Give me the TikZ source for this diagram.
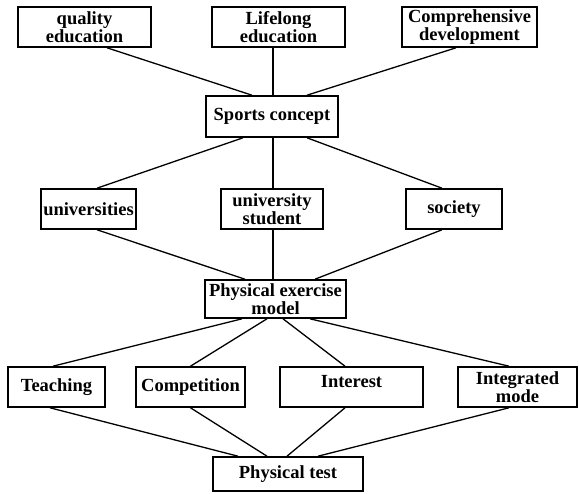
\documentclass[tikz,border=0pt]{standalone}
\usepackage{fontspec}
\setmainfont{Liberation Serif}
\usepackage{tikz}

\begin{document}
\begin{tikzpicture}[x=1pt, y=-1pt,
    block/.style={draw, line width=1.6pt, inner sep=0pt, minimum height=40pt, align=center,
      font=\fontsize{18.5}{15}\selectfont\bfseries},
    link/.style={line width=1.3pt}]

  \useasboundingbox (0,0) rectangle (579,494);

  % ideas on top
  \node[block, minimum width=133pt] (quality) at (84.5,27) {quality\\education};
  \node[block, minimum width=133pt] (lifelong) at (278.5,27) {Lifelong\\education};
  \node[block, minimum width=135pt] (develop) at (469.5,27) {Comprehensive\\development};

  \node[block, minimum width=132pt, minimum height=41pt] (sports) at (272,116.5) {Sports concept};

  % who takes part
  \node[block, minimum width=95pt] (univ) at (88.5,209) {universities};
  \node[block, minimum width=102pt] (student) at (272,209) {university\\student};
  \node[block, minimum width=96pt] (society) at (454,209) {society};

  \node[block, minimum width=141pt, minimum height=38pt] (model) at (275.5,299) {Physical exercise\\model};

  % modes
  \node[block, minimum width=97pt] (teaching) at (56.5,387) {Teaching};
  \node[block, minimum width=109pt] (compet) at (190.5,387) {Competition};
  \node[block, minimum width=143pt, text depth=12pt] (interest) at (351.5,387) {Interest};
  \node[block, minimum width=119pt] (integrated) at (517.5,387) {Integrated\\mode};

  \node[block, minimum width=150pt, minimum height=34pt] (test) at (288,474) {Physical test};

  \draw[link] ([xshift=22.5pt]quality.south) -- ([xshift=-20pt]sports.north);
  \draw[link] ([xshift=-5.5pt]lifelong.south) -- ([xshift=1pt]sports.north);
  \draw[link] ([xshift=-13.5pt]develop.south) -- ([xshift=35pt]sports.north);

  \draw[link] ([xshift=-29pt]sports.south) -- ([xshift=8.5pt]univ.north);
  \draw[link] ([xshift=1pt]sports.south) -- ([xshift=1pt]student.north);
  \draw[link] ([xshift=35pt]sports.south) -- ([xshift=-12pt]society.north);

  \draw[link] ([xshift=8.5pt]univ.south) -- ([xshift=-30.5pt]model.north);
  \draw[link] ([xshift=1pt]student.south) -- ([xshift=-2.5pt]model.north);
  \draw[link] ([xshift=-12pt]society.south) -- ([xshift=39.5pt]model.north);

  \draw[link] ([xshift=-33.5pt]model.south) -- ([xshift=-3.5pt]teaching.north);
  \draw[link] ([xshift=-8.5pt]model.south) -- (compet.north);
  \draw[link] ([xshift=7.5pt]model.south) -- ([xshift=-6.5pt]interest.north);
  \draw[link] ([xshift=34.5pt]model.south) -- ([xshift=-8.5pt]integrated.north);

  \draw[link] ([xshift=-6.5pt]teaching.south) -- ([xshift=-50pt]test.north);
  \draw[link] (compet.south) -- ([xshift=-21pt]test.north);
  \draw[link] ([xshift=-6.5pt]interest.south) -- ([xshift=-1pt]test.north);
  \draw[link] ([xshift=-8.5pt]integrated.south) -- ([xshift=30pt]test.north);

\end{tikzpicture}
\end{document}
